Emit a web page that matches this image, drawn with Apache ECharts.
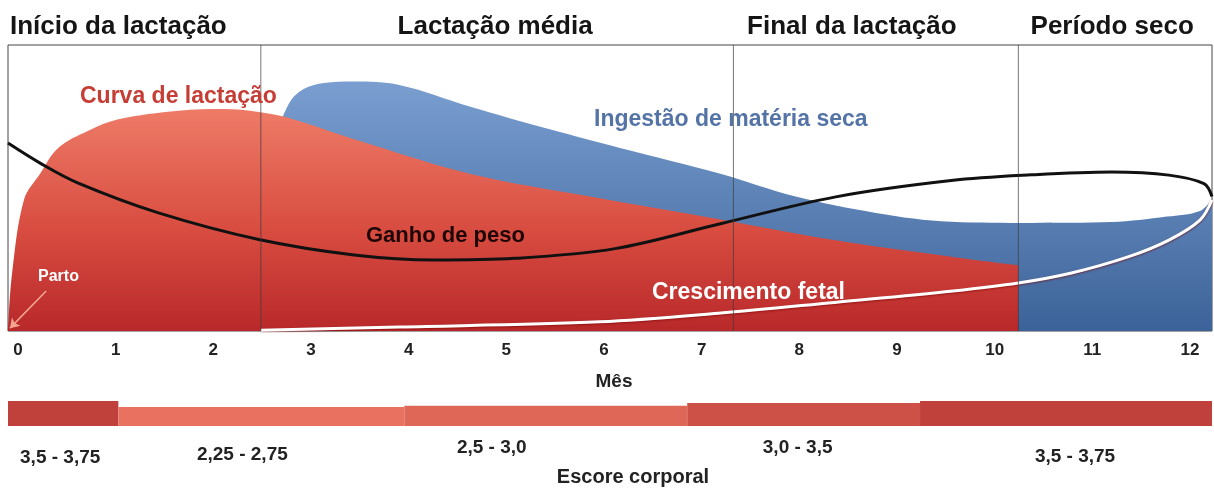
<!DOCTYPE html>
<html>
<head>
<meta charset="utf-8">
<script src="https://cdn.jsdelivr.net/npm/echarts@6/dist/echarts.min.js"></script>
<style>
  html, body { margin: 0; padding: 0; background: #fff; }
  #chart { width: 1214px; height: 488px; }
</style>
</head>
<body>
<div id="chart"></div>
<script>
// eixo x: meses desde o parto
const months = ['0', '1', '2', '3', '4', '5', '6', '7', '8', '9', '10', '11', '12'];

// fases do ciclo (em meses)
const phaseNames = ['Início da lactação', 'Lactação média', 'Final da lactação', 'Período seco'];
const phaseStart = [0, 2.52, 7.23, 10.07];
const phaseEnd = [2.52, 7.23, 10.07, 12];

// curvas (mês, valor relativo 0-100)
const lactacao = [[0, 0], [0.04, 20], [0.16, 46], [0.32, 55], [0.5, 64], [0.8, 70], [1.1, 74], [1.7, 77], [2.15, 77.6],
  [2.5, 76.6], [2.8, 74.5], [3.5, 66.5], [4.6, 55], [5.8, 47], [7.1, 39], [8.2, 32], [9.4, 26], [10.07, 23]];
const ingestao = [[2.74, 75], [2.85, 82], [3.05, 86], [3.45, 87.2], [3.9, 86], [4.6, 78.5], [5.4, 70.5], [6.1, 64],
  [7.1, 55], [7.85, 47], [8.65, 41.3], [9.4, 38.2], [10.2, 37.8], [11, 38.1], [11.55, 40], [11.88, 42], [12, 46]];
const ganho = [[0, 65.7], [0.32, 58.7], [0.7, 51.7], [1.5, 41.3], [2.5, 32], [3.45, 26.6], [4.25, 24.8], [5.05, 25.4],
  [6.05, 28.8], [7.1, 37.5], [8.25, 46.9], [9.4, 52.6], [10.2, 54.6], [11, 55.6], [11.57, 54.5], [11.92, 51.5], [12, 47]];
const fetal = [[2.52, 0.3], [3.9, 1.4], [5.9, 3.2], [7.08, 6.2], [8.24, 10], [9.42, 14], [10.07, 16.8], [10.6, 20.3],
  [11.17, 26], [11.57, 31.8], [11.88, 38.8], [12, 45.8]];

// escore corporal por periodo
const scoreStart = [0, 1.1, 3.95, 6.77, 9.09];
const scoreEnd = [1.1, 3.95, 6.77, 9.09, 12];
const scoreLow = [3.5, 2.25, 2.5, 3.0, 3.5];
const scoreHigh = [3.75, 2.75, 3.0, 3.5, 3.75];
const scoreLabels = ['3,5 - 3,75', '2,25 - 2,75', '2,5 - 3,0', '3,0 - 3,5', '3,5 - 3,75'];

const FONT = '"Liberation Sans", Arial, sans-serif';
// ajustes de posicao dos textos (px)
const headerNudge = [0, -2, -24, -3];
const scoreLabelNudge = [[-3, 32], [-19, 29], [-54, 22], [-6, 22], [9, 31]];

var myChart = echarts.init(document.getElementById('chart'));

function renderPhases(params, api) {
  const i = params.dataIndex;
  const top = api.coord([api.value(0), 100]);
  const bot = api.coord([api.value(0), 0]);
  const end = api.coord([api.value(1), 100]);
  const children = [];
  if (api.value(0) > 0) {
    children.push({
      type: 'line',
      shape: { x1: top[0], y1: top[1], x2: bot[0], y2: bot[1] },
      style: { stroke: 'rgba(60,60,60,0.7)', lineWidth: 1 }
    });
  }
  children.push({
    type: 'text',
    x: i === 0 ? top[0] + 2 : (top[0] + end[0]) / 2 + headerNudge[i],
    y: top[1] - 18,
    style: {
      text: phaseNames[i], fill: '#151515', fontSize: 26, fontWeight: 'bold', fontFamily: FONT,
      align: i === 0 ? 'left' : 'center', verticalAlign: 'middle'
    }
  });
  return { type: 'group', children: children };
}

function renderScore(params, api) {
  const i = params.dataIndex;
  const a = api.coord([api.value(0), api.value(2)]);
  const b = api.coord([api.value(1), -1]);
  return {
    type: 'group',
    children: [
      { type: 'rect', shape: { x: a[0], y: a[1], width: b[0] - a[0], height: b[1] - a[1] }, style: { fill: api.visual('color') } },
      {
        type: 'text',
        x: (a[0] + b[0]) / 2 + scoreLabelNudge[i][0],
        y: b[1] + scoreLabelNudge[i][1],
        style: {
          text: scoreLabels[i], fill: '#222', fontSize: 19, fontWeight: 'bold', fontFamily: FONT,
          align: 'center', verticalAlign: 'middle'
        }
      }
    ]
  };
}

function label(text, x, y, color, size, align) {
  return {
    type: 'text', x: x, y: y, z: 100,
    style: { text: text, fill: color, fontSize: size, fontWeight: 'bold', fontFamily: FONT, align: align || 'left', verticalAlign: 'middle' }
  };
}

myChart.setOption({
  animation: false,
  backgroundColor: '#fff',
  grid: [
    { left: 8, right: 2, top: 45, bottom: 157, show: true, borderColor: '#444', borderWidth: 1 },
    { left: 18, right: 24, top: 45, bottom: 157 },
    { left: 8, right: 2, top: 399, bottom: 62 }
  ],
  xAxis: [
    { type: 'value', gridIndex: 0, min: 0, max: 12, show: false },
    {
      type: 'category', gridIndex: 1, data: months, boundaryGap: false,
      axisLine: { show: false }, axisTick: { show: false },
      axisLabel: { interval: 0, margin: 11, color: '#222', fontSize: 17, fontWeight: 'bold', fontFamily: FONT }
    },
    { type: 'value', gridIndex: 2, min: 0, max: 12, show: false }
  ],
  yAxis: [
    { type: 'value', gridIndex: 0, min: 0, max: 100, show: false },
    { type: 'value', gridIndex: 1, min: 0, max: 1, show: false },
    { type: 'value', gridIndex: 2, min: -1, max: 4, show: false }
  ],
  visualMap: {
    show: false, seriesIndex: 5, dimension: 2, min: 2.5, max: 3.625,
    inRange: { color: ['#e8725f', '#c0403b'] }
  },
  series: [
    {
      name: 'Ingestão de matéria seca', type: 'line', xAxisIndex: 0, yAxisIndex: 0, z: 1,
      data: ingestao, smooth: 0.35, symbol: 'none',
      lineStyle: { width: 0 },
      areaStyle: {
        opacity: 1,
        color: new echarts.graphic.LinearGradient(0, 0, 0, 1, [
          { offset: 0, color: '#7a9ed0' }, { offset: 1, color: '#3c6399' }
        ])
      }
    },
    {
      name: 'Curva de lactação', type: 'line', xAxisIndex: 0, yAxisIndex: 0, z: 2,
      data: lactacao, smooth: 0.35, symbol: 'none',
      lineStyle: { width: 0 },
      areaStyle: {
        opacity: 1,
        color: new echarts.graphic.LinearGradient(0, 0, 0, 1, [
          { offset: 0, color: '#ee7b67' }, { offset: 0.55, color: '#d84c40' }, { offset: 1, color: '#b8282a' }
        ])
      },
      markLine: {
        silent: true, symbolSize: 9, label: { show: false },
        lineStyle: { color: '#f4a692', width: 1.5, type: 'solid' },
        data: [[{ coord: [0.38, 14], symbol: 'none' }, { coord: [0.02, 1], symbol: 'arrow' }]]
      }
    },
    {
      name: 'Ganho de peso', type: 'line', xAxisIndex: 0, yAxisIndex: 0, z: 3,
      data: ganho, smooth: 0.35, symbol: 'none',
      lineStyle: { color: '#111', width: 3 }
    },
    {
      name: 'Crescimento fetal', type: 'line', xAxisIndex: 0, yAxisIndex: 0, z: 4,
      data: fetal, smooth: 0.35, symbol: 'none',
      lineStyle: { color: '#fff', width: 3, shadowColor: 'rgba(120,0,0,0.6)', shadowBlur: 2, shadowOffsetY: 1 }
    },
    {
      name: 'Fases', type: 'custom', xAxisIndex: 0, yAxisIndex: 0, z: 5, silent: true,
      renderItem: renderPhases,
      data: phaseStart.map((s, i) => [s, phaseEnd[i]])
    },
    {
      name: 'Escore corporal', type: 'custom', xAxisIndex: 2, yAxisIndex: 2, silent: true,
      renderItem: renderScore,
      data: scoreStart.map((s, i) => [s, scoreEnd[i], (scoreLow[i] + scoreHigh[i]) / 2])
    }
  ],
  graphic: [
    label('Curva de lactação', 80, 97, '#c63d35', 23),
    label('Ingestão de matéria seca', 594, 120, '#5474a6', 23),
    label('Ganho de peso', 366, 236, '#1e0606', 22),
    label('Crescimento fetal', 652, 293, '#fff', 23),
    label('Parto', 38, 277, '#fff', 16),
    label('Mês', 614, 382, '#222', 19, 'center'),
    label('Escore corporal', 633, 477, '#222', 20, 'center')
  ]
});
</script>
</body>
</html>
